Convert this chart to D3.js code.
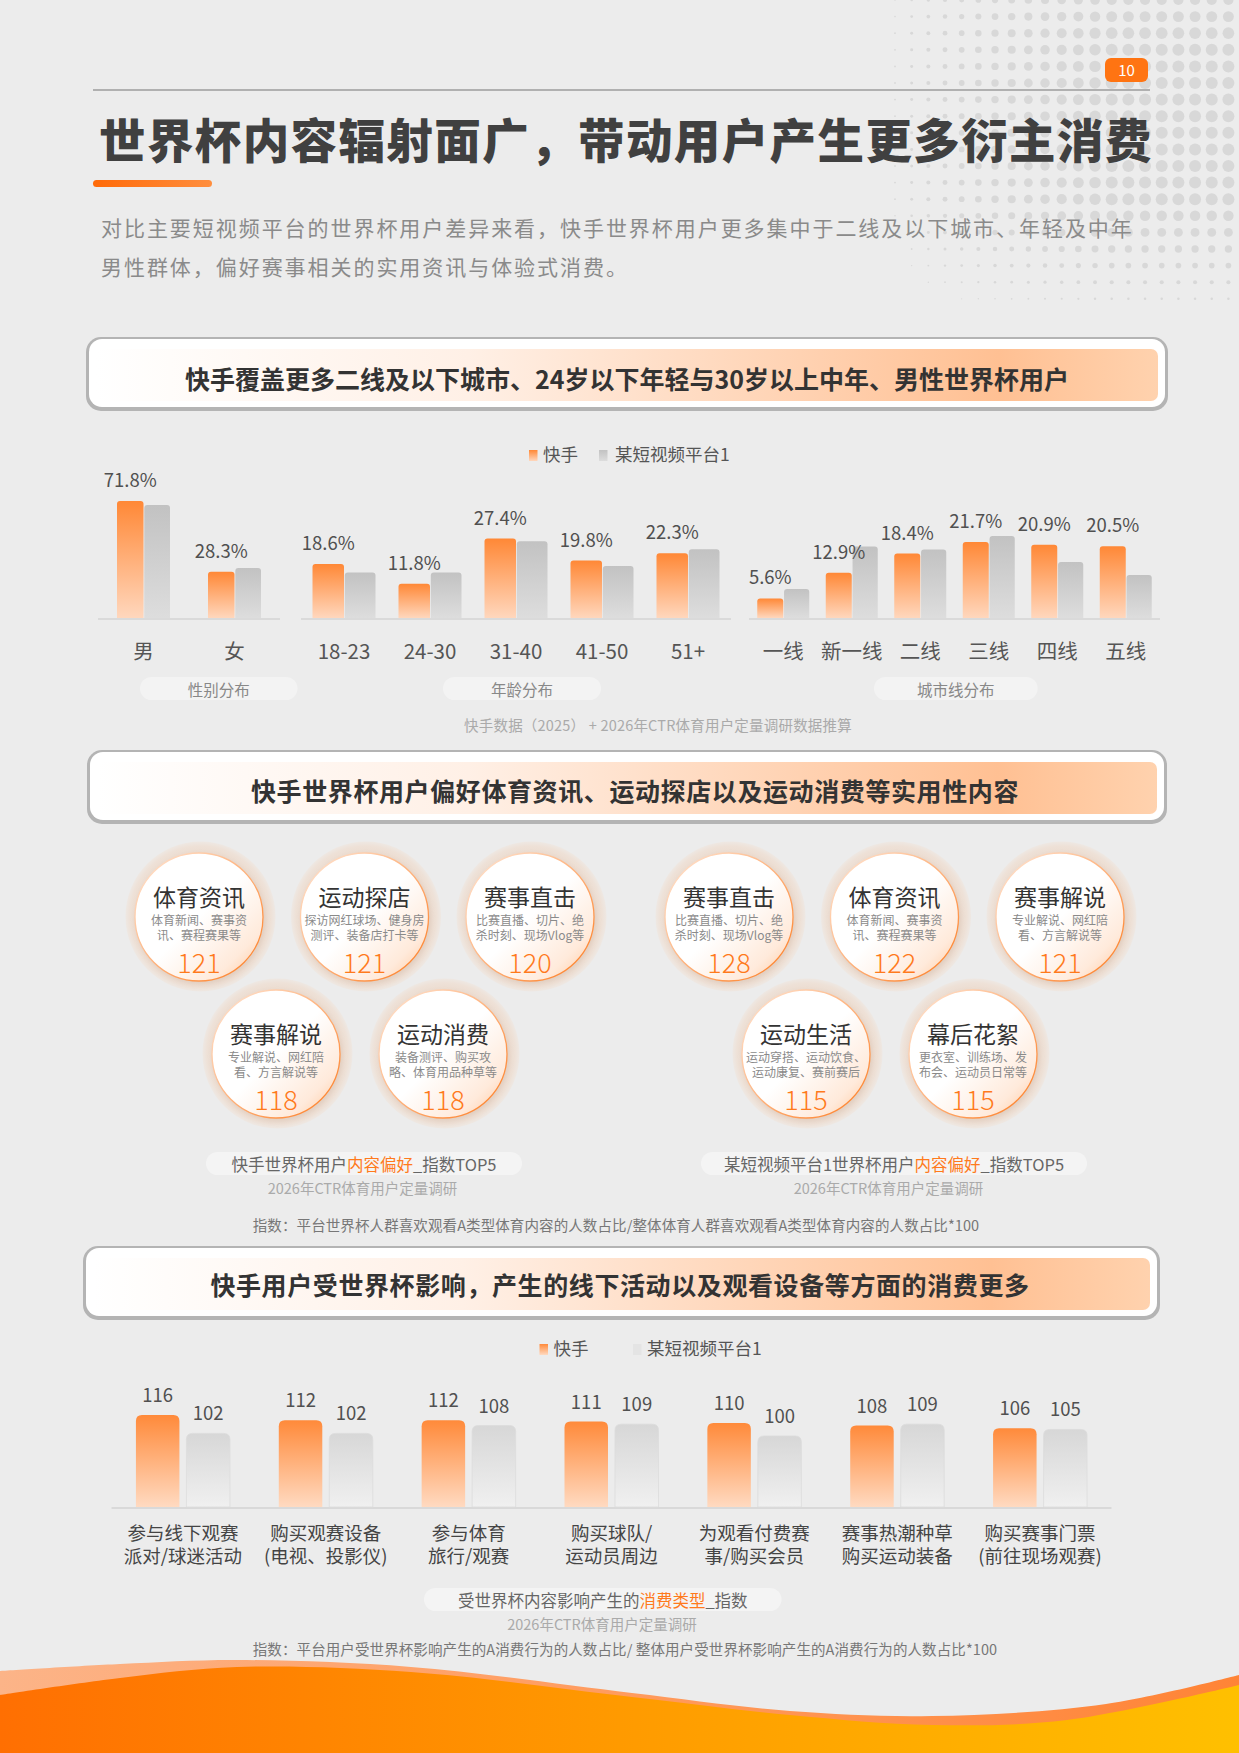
<!DOCTYPE html>
<html><head><meta charset="utf-8">
<script src="https://cdn.jsdelivr.net/npm/d3@7"></script>
<style>
body{margin:0;background:#ececec}
svg{display:block}
text{font-family:'Noto Sans CJK SC','Noto Sans',sans-serif}
</style>
</head><body><div id="chart"></div>
<script>
// ---------------- DATA ----------------
const pageTitle = '世界杯内容辐射面广，带动用户产生更多衍主消费';
const introLines = ['对比主要短视频平台的世界杯用户差异来看，快手世界杯用户更多集中于二线及以下城市、年轻及中年',
                    '男性群体，偏好赛事相关的实用资讯与体验式消费。'];
const seriesNames = ['快手', '某短视频平台1'];
const sectionTitles = ['快手覆盖更多二线及以下城市、24岁以下年轻与30岁以上中年、男性世界杯用户',
                       '快手世界杯用户偏好体育资讯、运动探店以及运动消费等实用性内容',
                       '快手用户受世界杯影响，产生的线下活动以及观看设备等方面的消费更多'];

const genderCats = ['男', '女'];
const genderKuaishou = [71.8, 28.3];
const genderOther = [69.3, 30.7];
const ageCats = ['18-23', '24-30', '31-40', '41-50', '51+'];
const ageKuaishou = [18.6, 11.8, 27.4, 19.8, 22.3];
const ageOther = [15.7, 15.7, 26.5, 17.9, 23.7];
const cityCats = ['一线', '新一线', '二线', '三线', '四线', '五线'];
const cityKuaishou = [5.6, 12.9, 18.4, 21.7, 20.9, 20.5];
const cityOther = [8.3, 20.4, 19.6, 23.4, 16.0, 12.3];
const groupCaptions = ['性别分布', '年龄分布', '城市线分布'];
const source1 = '快手数据（2025） + 2026年CTR体育用户定量调研数据推算';

const leftTitles = ['体育资讯', '运动探店', '赛事直击', '赛事解说', '运动消费'];
const leftDescs = [['体育新闻、赛事资', '讯、赛程赛果等'], ['探访网红球场、健身房', '测评、装备店打卡等'],
                   ['比赛直播、切片、绝', '杀时刻、现场Vlog等'], ['专业解说、网红陪', '看、方言解说等'],
                   ['装备测评、购买攻', '略、体育用品种草等']];
const leftIndex = [121, 121, 120, 118, 118];
const rightTitles = ['赛事直击', '体育资讯', '赛事解说', '运动生活', '幕后花絮'];
const rightDescs = [['比赛直播、切片、绝', '杀时刻、现场Vlog等'], ['体育新闻、赛事资', '讯、赛程赛果等'],
                    ['专业解说、网红陪', '看、方言解说等'], ['运动穿搭、运动饮食、', '运动康复、赛前赛后'],
                    ['更衣室、训练场、发', '布会、运动员日常等']];
const rightIndex = [128, 122, 121, 115, 115];
const circleCaptions = [['快手世界杯用户', '内容偏好', '_指数TOP5'], ['某短视频平台1世界杯用户', '内容偏好', '_指数TOP5']];
const surveySource = '2026年CTR体育用户定量调研';
const note2 = '指数：平台世界杯人群喜欢观看A类型体育内容的人数占比/整体体育人群喜欢观看A类型体育内容的人数占比*100';

const spendCats = [['参与线下观赛', '派对/球迷活动'], ['购买观赛设备', '(电视、投影仪)'], ['参与体育', '旅行/观赛'],
                   ['购买球队/', '运动员周边'], ['为观看付费赛', '事/购买会员'], ['赛事热潮种草', '购买运动装备'],
                   ['购买赛事门票', '(前往现场观赛)']];
const spendKuaishou = [116, 112, 112, 111, 110, 108, 106];
const spendOther = [102, 102, 108, 109, 100, 109, 105];
const spendCaption = ['受世界杯内容影响产生的', '消费类型', '_指数'];
const note3 = '指数：平台用户受世界杯影响产生的A消费行为的人数占比/ 整体用户受世界杯影响产生的A消费行为的人数占比*100';

// ---------------- SETUP ----------------
const W = 1239, H = 1753;
const svg = d3.select('#chart').append('svg').attr('width', W).attr('height', H);
const defs = svg.append('defs');
svg.append('rect').attr('width', W).attr('height', H).attr('fill', '#ececec');

function linGrad(id, x1, y1, x2, y2, stops) {
  const g = defs.append('linearGradient').attr('id', id)
    .attr('x1', x1).attr('y1', y1).attr('x2', x2).attr('y2', y2);
  stops.forEach(s => g.append('stop').attr('offset', s[0]).attr('stop-color', s[1]).attr('stop-opacity', s[2] == null ? 1 : s[2]));
}
linGrad('gOrange', 0, 0, 0, 1, [[0, '#ff8836'], [1, '#ffd7bd']]);
linGrad('gGray', 0, 0, 0, 1, [[0, '#c2c2c2'], [1, '#dddddd']]);
linGrad('gOrange3', 0, 0, 0, 1, [[0, '#ff8a3a'], [1, '#ffdac1']]);
linGrad('gGray3', 0, 0, 0, 1, [[0, '#d7d7d7'], [1, '#f0f0f0']]);
linGrad('gHeader', 0, 0, 1, 0, [[0, '#ffffff'], [0.35, '#fff0e6'], [0.85, '#ffc093'], [1, '#ffd2ae']]);
linGrad('gUnder', 0, 0, 1, 0, [[0, '#ff6a08'], [1, '#ff8e3e']]);
linGrad('gCircle', 0, 0, 1, 1, [[0, '#ffffff'], [0.5, '#ffffff'], [0.8, '#ffeadb'], [1, '#ffc496']]);
linGrad('gCircleStroke', 0, 0, 1, 1, [[0, '#ffe8d8'], [0.5, '#ffb27c'], [1, '#ff7a1c']]);
linGrad('gWaveBack', 0, 0, 1, 0, [[0, '#fcb488'], [0.4, '#ffa066'], [1, '#ff8436']]);
linGrad('gWaveFront', 0, 0, 1, 0, [[0, '#ff6f02'], [0.5, '#ff9a00'], [1, '#ffc000']]);
const halo = defs.append('radialGradient').attr('id', 'gHalo');
[[0, '#ead8cb'], [0.85, '#ecdcd0'], [0.94, '#eee1d7'], [1, '#eee8e3']].forEach(s =>
  halo.append('stop').attr('offset', s[0]).attr('stop-color', s[1]));
const blur = defs.append('filter').attr('id', 'fBlur').attr('x', '-30%').attr('y', '-30%').attr('width', '160%').attr('height', '160%');
blur.append('feGaussianBlur').attr('stdDeviation', 2.5);

function topRounded(x, y, w, h, r) {
  r = Math.min(r, w / 2, h);
  return `M${x},${y + h}V${y + r}Q${x},${y} ${x + r},${y}H${x + w - r}Q${x + w},${y} ${x + w},${y + r}V${y + h}Z`;
}

// ---------------- HALFTONE DOTS ----------------
const dots = [];
for (let i = 0; i < 24; i++) {
  for (let j = 0; j < 20; j++) {
    const x = 895 + i * 16.67, y = j * 16.6;
    const fx = Math.max(0, Math.min(1, (x - 880) / 230));
    const fy = y < 40 ? 0.85 + 0.15 * y / 40 : (y < 200 ? 1 : Math.max(0, 1 - (y - 200) / 125));
    const r = 6.0 * Math.pow(fx, 0.7) * fy;
    if (r > 0.6) dots.push({x, y, r});
  }
}
svg.append('g').selectAll('circle').data(dots).join('circle')
  .attr('cx', d => d.x).attr('cy', d => d.y).attr('r', d => d.r).attr('fill', '#d8d8d8');

// ---------------- PAGE HEADER ----------------
svg.append('line').attr('x1', 93).attr('x2', 1150).attr('y1', 90).attr('y2', 90)
  .attr('stroke', '#b0b0b0').attr('stroke-width', 2);
svg.append('rect').attr('x', 1105).attr('y', 58).attr('width', 43).attr('height', 24).attr('rx', 6).attr('fill', '#ff7412');
svg.append('text').attr('x', 1126.5).attr('y', 76).attr('text-anchor', 'middle').attr('fill', '#fff')
  .attr('font-size', 15).text('10');
svg.append('text').attr('x', 99).attr('y', 158).attr('font-size', 46.5).attr('font-weight', 900)
  .attr('letter-spacing', 1.4).attr('fill', '#404040').text(pageTitle);
svg.append('rect').attr('x', 93).attr('y', 180).attr('width', 119).attr('height', 7).attr('rx', 3.5).attr('fill', 'url(#gUnder)');
svg.append('g').selectAll('text').data(introLines).join('text')
  .attr('x', 101).attr('y', (d, i) => 236 + i * 39).attr('font-size', 21).attr('letter-spacing', 1.95)
  .attr('fill', '#8a8a8a').text(d => d);

// ---------------- SECTION HEADERS ----------------
const headerBoxes = [[86, 337, 1168, 411, 627, 389], [87, 750, 1167, 824, 635, 801], [83, 1246, 1160, 1320, 620, 1295]];
headerBoxes.forEach((b, i) => {
  const [x0, y0, x1, y1, tc, ty] = b;
  const g = svg.append('g');
  g.append('rect').attr('x', x0).attr('y', y0).attr('width', x1 - x0).attr('height', y1 - y0).attr('rx', 15).attr('fill', '#b4b4b4');
  g.append('rect').attr('x', x0 + 3).attr('y', y0 + 2).attr('width', x1 - x0 - 6).attr('height', y1 - y0 - 6).attr('rx', 13).attr('fill', '#ffffff');
  g.append('rect').attr('x', x0 + 10).attr('y', y0 + 12).attr('width', x1 - x0 - 20).attr('height', y1 - y0 - 22).attr('rx', 7).attr('fill', 'url(#gHeader)');
  g.append('text').attr('x', tc).attr('y', ty).attr('text-anchor', 'middle').attr('font-size', 25)
    .attr('font-weight', 700).attr('letter-spacing', i === 0 ? 0 : 0.6).attr('fill', '#333').text(sectionTitles[i]);
});

// ---------------- LEGEND helper ----------------
function legend(x, y, items, grads, textX) {
  const g = svg.append('g');
  items.forEach((name, i) => {
    g.append('rect').attr('x', x[i]).attr('y', y - 11).attr('width', 8.5).attr('height', 11).attr('fill', grads[i]);
    g.append('text').attr('x', textX[i]).attr('y', y).attr('font-size', 17.5).attr('fill', '#555').text(name);
  });
}
legend([529, 599], 461, seriesNames, ['url(#gOrange)', 'url(#gGray)'], [543, 615]);

// ---------------- CHART 1 (three grouped panels) ----------------
const base1 = 618;
function panel(cats, kv, ov, range, pairW, yMax, yH) {
  const g = svg.append('g');
  const x0 = d3.scaleBand().domain(cats).range(range);
  const x1 = d3.scaleBand().domain(['k', 'o']).range([0, pairW]);
  const y = d3.scaleLinear().domain([0, yMax]).range([base1, base1 - yH]);
  const off = (x0.bandwidth() - pairW) / 2;
  g.append('line').attr('x1', range[0]).attr('x2', range[1]).attr('y1', base1 + 1).attr('y2', base1 + 1)
    .attr('stroke', '#dadada').attr('stroke-width', 2);
  const rows = cats.map((c, i) => ({c, k: kv[i], o: ov[i]}));
  g.selectAll('.bk').data(rows).join('path')
    .attr('d', d => topRounded(x0(d.c) + off + x1('k'), y(d.k), x1.bandwidth(), base1 - y(d.k), 3))
    .attr('fill', 'url(#gOrange)');
  g.selectAll('.bo').data(rows).join('path')
    .attr('d', d => topRounded(x0(d.c) + off + x1('o') + 0.8, y(d.o), x1.bandwidth() - 0.8, base1 - y(d.o), 3))
    .attr('fill', 'url(#gGray)');
  g.selectAll('.lab').data(rows).join('text')
    .attr('x', d => x0(d.c) + off + x1('k') + x1.bandwidth() / 2).attr('y', d => y(d.k) - 14)
    .attr('text-anchor', 'middle').attr('font-size', 18.5).attr('fill', '#505050').text(d => d.k.toFixed(1) + '%');
  const ax = g.append('g').attr('transform', `translate(0,${base1})`)
    .call(d3.axisBottom(x0).tickSize(0));
  ax.select('.domain').remove();
  ax.selectAll('text').attr('y', 41).attr('dy', null).attr('font-size', 20.5).attr('fill', '#555')
    .style('font-family', "'Noto Sans CJK SC','Noto Sans',sans-serif");
}
panel(genderCats, genderKuaishou, genderOther, [98, 280], 53, 100, 163);
panel(ageCats, ageKuaishou, ageOther, [301, 731], 63, 30, 87);
panel(cityCats, cityKuaishou, cityOther, [749, 1160], 52, 25, 87.5);

const pills1 = [[140, 297.5], [443, 601], [874, 1037.6]];
pills1.forEach((p, i) => {
  svg.append('rect').attr('x', p[0]).attr('y', 677).attr('width', p[1] - p[0]).attr('height', 23).attr('rx', 11.5).attr('fill', '#f3f3f3');
  svg.append('text').attr('x', (p[0] + p[1]) / 2).attr('y', 696).attr('text-anchor', 'middle').attr('font-size', 15.5)
    .attr('fill', '#888').text(groupCaptions[i]);
});
svg.append('text').attr('x', 658).attr('y', 731).attr('text-anchor', 'middle').attr('font-size', 14.5)
  .attr('letter-spacing', 0.2).attr('fill', '#aaa').text(source1);

// ---------------- CHART 2 (bubbles) ----------------
function bubbles(titles, descs, vals, shift) {
  const pos = titles.map((t, i) => i < 3 ? [199 + i * 165.5 + shift, 917] : [276 + (i - 3) * 167 + shift, 1054]);
  const data = titles.map((t, i) => ({t, d: descs[i], v: vals[i], x: pos[i][0], y: pos[i][1]}));
  const g = svg.append('g');
  const n = g.selectAll('g').data(data).join('g').attr('transform', d => `translate(${d.x},${d.y})`);
  n.append('circle').attr('r', 75).attr('cx', 1.5).attr('cy', -0.5).attr('fill', 'url(#gHalo)');
  n.append('circle').attr('r', 65).attr('cx', 1.5).attr('cy', 2.5).attr('fill', '#d4bcab').attr('opacity', 0.45).attr('filter', 'url(#fBlur)');
  n.append('circle').attr('r', 64).attr('fill', 'url(#gCircle)').attr('stroke', 'url(#gCircleStroke)').attr('stroke-width', 1.3);
  n.append('text').attr('y', -11).attr('text-anchor', 'middle').attr('font-size', 23).attr('fill', '#333').text(d => d.t);
  n.append('text').attr('y', 8).attr('text-anchor', 'middle').attr('font-size', 12).attr('fill', '#8a8a8a').text(d => d.d[0]);
  n.append('text').attr('y', 22.5).attr('text-anchor', 'middle').attr('font-size', 12).attr('fill', '#8a8a8a').text(d => d.d[1]);
  n.append('text').attr('y', 56).attr('text-anchor', 'middle').attr('font-size', 27).attr('font-weight', 300)
    .attr('fill', '#ff7a1c').text(d => d.v);
}
bubbles(leftTitles, leftDescs, leftIndex, 0);
bubbles(rightTitles, rightDescs, rightIndex, 530);

function captionPill(x0, x1, y, parts, fs) {
  svg.append('rect').attr('x', x0).attr('y', y).attr('width', x1 - x0).attr('height', 23).attr('rx', 11.5).attr('fill', '#f4f4f4');
  const t = svg.append('text').attr('x', (x0 + x1) / 2).attr('y', y + 19).attr('text-anchor', 'middle')
    .attr('font-size', fs).attr('fill', '#666');
  parts.forEach((p, i) => t.append('tspan').attr('fill', i === 1 ? '#ff7a1c' : '#666').text(p));
}
captionPill(206, 522, 1152, circleCaptions[0], 16.5);
captionPill(701, 1087, 1152, circleCaptions[1], 16.5);
[362.5, 888.5].forEach(cx => svg.append('text').attr('x', cx).attr('y', 1194).attr('text-anchor', 'middle')
  .attr('font-size', 14.5).attr('fill', '#aaa').text(surveySource));
svg.append('text').attr('x', 616).attr('y', 1231).attr('text-anchor', 'middle').attr('font-size', 14.5)
  .attr('letter-spacing', 0.1).attr('fill', '#777').text(note2);

// ---------------- CHART 3 ----------------
legend([539.5, 633], 1355, seriesNames, ['url(#gOrange3)', '#e4e4e4'], [553.5, 647]);
const base3 = 1507;
const x3 = d3.scaleBand().domain(spendCats.map((c, i) => i)).range([111.5, 1111.5]);
const y3 = d3.scaleLinear().domain([46, 116]).range([base3, 1415]);
const bw3 = 43.5, gap3 = 7;
const rows3 = spendCats.map((c, i) => ({i, k: spendKuaishou[i], o: spendOther[i]}));
const cx3 = i => x3(i) + x3.bandwidth() / 2;
const g3 = svg.append('g');
g3.append('line').attr('x1', 111.5).attr('x2', 1111.5).attr('y1', base3 + 1).attr('y2', base3 + 1)
  .attr('stroke', '#d9d9d9').attr('stroke-width', 2);
g3.selectAll('.k').data(rows3).join('path')
  .attr('d', d => topRounded(cx3(d.i) - gap3 / 2 - bw3, y3(d.k), bw3, base3 - y3(d.k), 6)).attr('fill', 'url(#gOrange3)');
g3.selectAll('.o').data(rows3).join('path')
  .attr('d', d => topRounded(cx3(d.i) + gap3 / 2, y3(d.o), bw3, base3 - y3(d.o), 6)).attr('fill', 'url(#gGray3)')
  .attr('stroke', '#dcdcdc').attr('stroke-width', 0.8);
g3.selectAll('.lk').data(rows3).join('text')
  .attr('x', d => cx3(d.i) - gap3 / 2 - bw3 / 2).attr('y', d => y3(d.k) - 13).attr('text-anchor', 'middle')
  .attr('font-size', 18.5).attr('fill', '#505050').text(d => d.k);
g3.selectAll('.lo').data(rows3).join('text')
  .attr('x', d => cx3(d.i) + gap3 / 2 + bw3 / 2).attr('y', d => y3(d.o) - 13).attr('text-anchor', 'middle')
  .attr('font-size', 18.5).attr('fill', '#505050').text(d => d.o);
const ax3 = g3.append('g').attr('transform', `translate(0,${base3})`).call(d3.axisBottom(x3).tickSize(0));
ax3.select('.domain').remove();
ax3.selectAll('text').attr('y', 0).attr('dy', null).text(null).attr('font-size', 18.5).attr('fill', '#444')
  .style('font-family', "'Noto Sans CJK SC','Noto Sans',sans-serif")
  .each(function (i) {
    const t = d3.select(this);
    spendCats[i].forEach((line, j) => t.append('tspan').attr('x', 0).attr('y', 33 + j * 23).text(line));
  });

captionPill(424, 781.5, 1588, spendCaption, 16.5);
svg.append('text').attr('x', 602).attr('y', 1630).attr('text-anchor', 'middle').attr('font-size', 14.5)
  .attr('fill', '#aaa').text(surveySource);
svg.append('text').attr('x', 625).attr('y', 1655).attr('text-anchor', 'middle').attr('font-size', 14.5)
  .attr('letter-spacing', 0.1).attr('fill', '#777').text(note3);

// ---------------- BOTTOM WAVE ----------------
const waveBack = [[0, 1671], [120, 1664], [237, 1660], [411, 1667], [632, 1693], [790, 1711], [932, 1716], [1106, 1704], [1239, 1675]];
const waveFront = [[0, 1695], [120, 1678], [237, 1667], [411, 1672], [632, 1697], [790, 1715], [932, 1725], [1067, 1720], [1239, 1685]];
const wl = d3.line().curve(d3.curveCatmullRom);
svg.append('path').attr('d', wl(waveBack) + `L${W},${H}L0,${H}Z`).attr('fill', 'url(#gWaveBack)');
svg.append('path').attr('d', wl(waveFront) + `L${W},${H}L0,${H}Z`).attr('fill', 'url(#gWaveFront)');
</script>
</body></html>
